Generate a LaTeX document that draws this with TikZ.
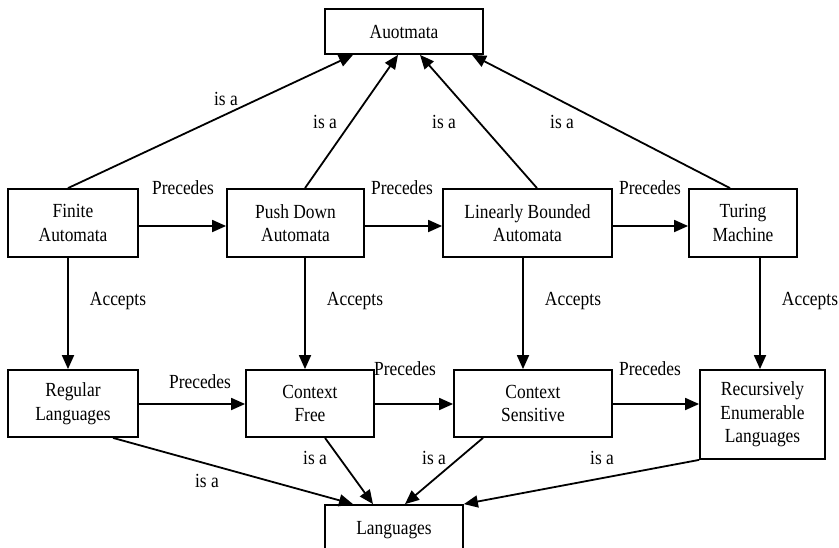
\documentclass[tikz,border=0pt]{standalone}
\usepackage{fontspec}
\setmainfont[FakeStretch=0.87]{Liberation Serif}
\usetikzlibrary{arrows.meta}
\begin{document}
\begin{tikzpicture}[x=1pt,y=-1pt,
  box/.style={draw,line width=1.8pt,rectangle,align=center,inner sep=0pt,font=\fontsize{20}{23.5}\selectfont},
  lbl/.style={font=\fontsize{20}{23.5}\selectfont,inner sep=0pt},
  arr/.style={line width=1.8pt,-{Triangle[length=14pt,width=12pt]}}]
\useasboundingbox (0,0) rectangle (839,547);
\node[box,minimum width=158pt,minimum height=45pt] (auto) at (404,31.5) {Auotmata};
\node[box,minimum width=130pt,minimum height=68pt] (fa) at (73,223) {Finite\\Automata};
\node[box,minimum width=137pt,minimum height=68pt] (pda) at (295.5,223) {Push Down\\Automata};
\node[box,minimum width=169pt,minimum height=68pt] (lba) at (527.5,223) {Linearly Bounded\\Automata};
\node[box,minimum width=108pt,minimum height=68pt] (tm) at (743,223) {Turing\\Machine};
\node[box,minimum width=130pt,minimum height=67pt] (rl) at (73,403.5) {Regular\\Languages};
\node[box,minimum width=128pt,minimum height=67pt] (cf) at (310,403.5) {Context\\Free};
\node[box,minimum width=158pt,minimum height=67pt] (cs) at (533,403.5) {Context\\Sensitive};
\node[box,minimum width=125pt,minimum height=89pt] (rel) at (762.5,414.5) {Recursively\\Enumerable\\Languages};
\node[box,minimum width=138pt,minimum height=50pt] (lang) at (394,530) {\raisebox{3pt}{Languages}};
% is a to Auotmata
\draw[arr] ([xshift=-5pt]fa.north) -- ([xshift=-51pt]auto.south);
\draw[arr] ([xshift=9.5pt]pda.north) -- ([xshift=-6pt]auto.south);
\draw[arr] ([xshift=9.5pt]lba.north) -- ([xshift=16pt]auto.south);
\draw[arr] ([xshift=-13pt]tm.north) -- ([xshift=68pt]auto.south);
% precedes top
\draw[arr] ([yshift=-3pt]fa.east) -- ([yshift=-3pt]pda.west);
\draw[arr] ([yshift=-3pt]pda.east) -- ([yshift=-3pt]lba.west);
\draw[arr] ([yshift=-3pt]lba.east) -- ([yshift=-3pt]tm.west);
% accepts
\draw[arr] ([xshift=-5pt]fa.south) -- ([xshift=-5pt]rl.north);
\draw[arr] ([xshift=9.5pt]pda.south) -- ([xshift=-5pt]cf.north);
\draw[arr] ([xshift=-4.5pt]lba.south) -- ([xshift=-10pt]cs.north);
\draw[arr] ([xshift=17pt]tm.south) -- ([xshift=-2.5pt]rel.north);
% precedes bottom
\draw[arr] ([yshift=-0.5pt]rl.east) -- ([yshift=-0.5pt]cf.west);
\draw[arr] ([yshift=-0.5pt]cf.east) -- ([yshift=-0.5pt]cs.west);
\draw[arr] ([yshift=-0.5pt]cs.east) -- ([yshift=-0.5pt]cs.east -| rel.west);
% is a to Languages
\draw[arr] ([xshift=40pt]rl.south) -- ([xshift=-41pt]lang.north);
\draw[arr] ([xshift=15pt]cf.south) -- ([xshift=-21pt]lang.north);
\draw[arr] ([xshift=-50pt]cs.south) -- ([xshift=11pt]lang.north);
\draw[arr] (rel.south west) -- (lang.north east);
% labels
\node[lbl] (l1) at (226,99) {is a};
\node[lbl] (l2) at (325,122) {is a};
\node[lbl] (l3) at (444,122) {is a};
\node[lbl] (l4) at (562,122) {is a};
\node[lbl] (p1) at (183,188) {Precedes};
\node[lbl] (p2) at (402,188) {Precedes};
\node[lbl] (p3) at (650,188) {Precedes};
\node[lbl] (a1) at (118,301) {Accepts};
\node[lbl] (a2) at (355,301) {Accepts};
\node[lbl] (a3) at (573,301) {Accepts};
\node[lbl] (a4) at (810,301) {Accepts};
\node[lbl] (p4) at (200,382) {Precedes};
\node[lbl] (p5) at (405,369) {Precedes};
\node[lbl] (p6) at (650,369) {Precedes};
\node[lbl] (l5) at (207,481) {is a};
\node[lbl] (l6) at (315,458) {is a};
\node[lbl] (l7) at (434,458) {is a};
\node[lbl] (l8) at (602,458) {is a};
\end{tikzpicture}
\end{document}
